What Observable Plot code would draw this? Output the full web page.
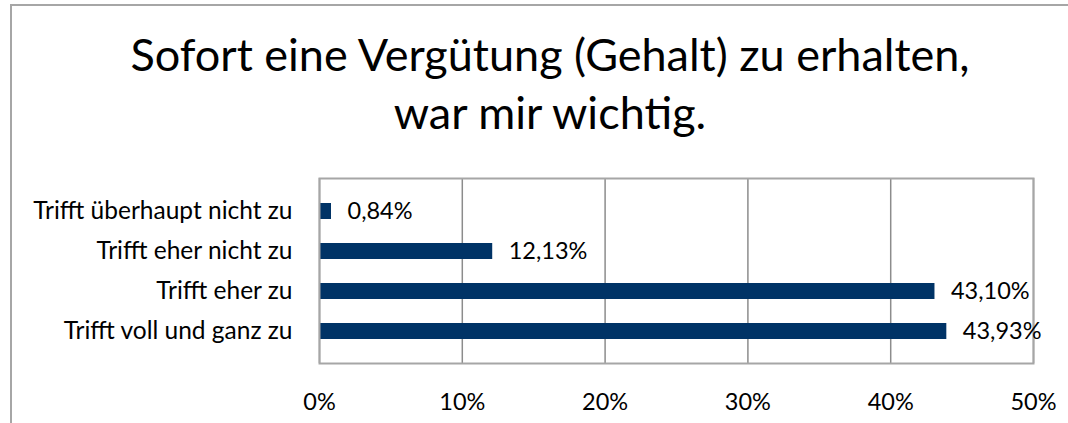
<!DOCTYPE html>
<html>
<head>
<meta charset="utf-8">
<script src="https://cdn.jsdelivr.net/npm/d3@7"></script>
<script src="https://cdn.jsdelivr.net/npm/@observablehq/plot@0.6"></script>
<style>
  html, body { margin: 0; padding: 0; background: #fff; overflow: hidden; }
  #wrap { position: relative; width: 1068px; height: 423px; overflow: hidden; background: #fff; font-family: Lato, sans-serif; }
  #outer { position: absolute; left: 10px; top: 4px; width: 1058px; height: 419px; border-left: 2px solid #a6a6a6; border-top: 2px solid #a6a6a6; box-sizing: border-box; }
  #title { position: absolute; left: 0; top: 0; width: 1100px; text-align: center; color: #000; font-size: 45px; line-height: 58px; padding-top: 25px; }
  #title div { white-space: nowrap; }
  #chart { position: absolute; left: 0; top: 0; }
</style>
</head>
<body>
<div id="wrap">
  <div id="outer"></div>
  <div id="chart"></div>
  <div id="title"><div>Sofort eine Vergütung (Gehalt) zu erhalten,</div><div>war mir wichtig.</div></div>
</div>
<script>
const categories = ["Trifft überhaupt nicht zu", "Trifft eher nicht zu", "Trifft eher zu", "Trifft voll und ganz zu"];
const values = [0.84, 12.13, 43.10, 43.93];
const xTicks = [0, 10, 20, 30, 40, 50];

const data = categories.map((c, i) => ({category: c, value: values[i]}));
const deFmt = d3.formatLocale({decimal: ",", thousands: ".", grouping: [3], currency: ["", " €"]});
const fmt2 = deFmt.format(".2f");

const chart = Plot.plot({
  width: 1068,
  height: 423,
  marginLeft: 319,
  marginRight: 35,
  marginTop: 178,
  marginBottom: 60,
  style: {fontFamily: "Lato, sans-serif", fontSize: "23.5px", color: "#000", background: "transparent"},
  x: {domain: [0, 50], ticks: xTicks, tickFormat: d => d + "%", tickSize: 0, tickPadding: 30, label: null},
  y: {domain: categories, padding: 0.6, tickSize: 0, tickPadding: 27, label: null},
  marks: [
    Plot.gridX(xTicks, {stroke: "#8c8c8c", strokeOpacity: 1, strokeWidth: 1.5}),
    Plot.barX(data, {x: "value", y: "category", fill: "#003366"}),
    Plot.frame({stroke: "#a6a6a6", strokeWidth: 2}),
    Plot.text(data, {x: "value", y: "category", text: d => fmt2(d.value) + "%", textAnchor: "start", dx: 16, fill: "#000", fontSize: 23.5}),
    Plot.axisX({ticks: xTicks, tickFormat: d => d + "%", tickSize: 0, tickPadding: 30, fontSize: 23.5, label: null}),
    Plot.axisY({tickSize: 0, tickPadding: 27, fontSize: 24.5, label: null})
  ]
});
document.getElementById("chart").appendChild(chart);
</script>
</body>
</html>
